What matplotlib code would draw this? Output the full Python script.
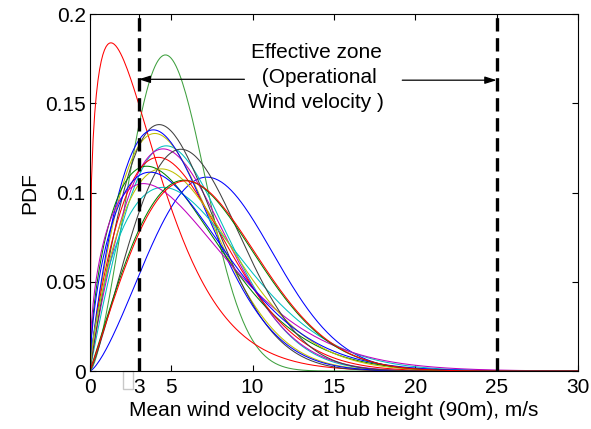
"""Weibull wind-speed PDFs at hub height with the turbine's operational band
(cut-in 3 m/s, cut-out 25 m/s) marked."""
import numpy as np
import matplotlib
matplotlib.use("Agg")
import matplotlib.pyplot as plt
from matplotlib.patches import Rectangle

plt.rcParams["font.family"] = ["Liberation Sans", "DejaVu Sans"]

# Weibull shape (k) and scale (c, m/s), one pair per site, in plotting order
SHAPE = [2.4, 2.5, 1.3, 1.97, 1.9, 1.84, 1.96,
         1.83, 1.58, 1.78, 1.7, 1.48, 1.77, 2.2,
         1.6, 2.03, 2.05]
SCALE = [9.0, 5.7, 4.0, 6.73, 6.67, 6.12, 6.13,
         6.01, 6.6, 6.68, 7.59, 7.07, 7.04, 7.37,
         6.83, 8.1, 8.18]

# old-style MATLAB line colour cycle: b g r c m y k
COLORS = ["#0000ff", "#008000", "#ff0000", "#00bfbf",
          "#bf00bf", "#bfbf00", "#404040"]

CUT_IN, CUT_OUT = 3, 25
XTICKS = [0, 3, 5, 10, 15, 20, 25, 30]
YTICKS = [0, 0.05, 0.1, 0.15, 0.2]
FS = 15


def weibull_pdf(v, k, c):
    return (k / c) * (v / c) ** (k - 1) * np.exp(-(v / c) ** k)


fig = plt.figure(figsize=(5.91, 4.29), dpi=100)
ax = fig.add_axes([0.152, 0.135, 0.826, 0.832])

v = np.arange(0, 30.05, 0.1)
for i, (k, c) in enumerate(zip(SHAPE, SCALE)):
    color = COLORS[i % 7]
    if i == 1:
        color = "#3fa03f"   # the peaked site reads lighter
    ax.plot(v, weibull_pdf(v, k, c), color=color, lw=0.75)

for xv in (CUT_IN, CUT_OUT):
    ax.plot([xv, xv], [0, 0.2], color="k", ls=(0, (4, 2)), lw=2.4)

ax.text(13.9, 0.1645, "Effective zone\n (Operational\nWind velocity )",
        ha="center", va="center", fontsize=FS, linespacing=1.38)
arrow = dict(arrowstyle="-|>,head_length=0.7,head_width=0.22",
             color="k", lw=0.9, shrinkA=0, shrinkB=0)
ax.annotate("", xy=(CUT_IN, 0.1635), xytext=(9.5, 0.1635), arrowprops=arrow)
ax.annotate("", xy=(CUT_OUT, 0.1630), xytext=(19.2, 0.1630), arrowprops=arrow)

# stray box left under the cut-in tick label
ax.add_patch(Rectangle((2.05, -0.0102), 0.61, 0.0104, fill=False,
                       ec="#c8c8c8", lw=1, clip_on=False))

ax.set_xlim(0, 30)
ax.set_ylim(0, 0.2)
ax.set_xticks(XTICKS)
ax.set_yticks(YTICKS)
ax.set_xticklabels([str(t) for t in XTICKS])
ax.set_yticklabels(["0", "0.05", "0.1", "0.15", "0.2"])
ax.tick_params(direction="in", length=4, labelsize=FS, top=True, right=True)
ax.tick_params(axis="x", pad=5)
ax.tick_params(axis="y", pad=3)
ax.set_xlabel("Mean wind velocity at hub height (90m), m/s", fontsize=FS,
              labelpad=3)
ax.set_ylabel("PDF", fontsize=FS, labelpad=4)

fig.savefig("out.png", dpi=100)
